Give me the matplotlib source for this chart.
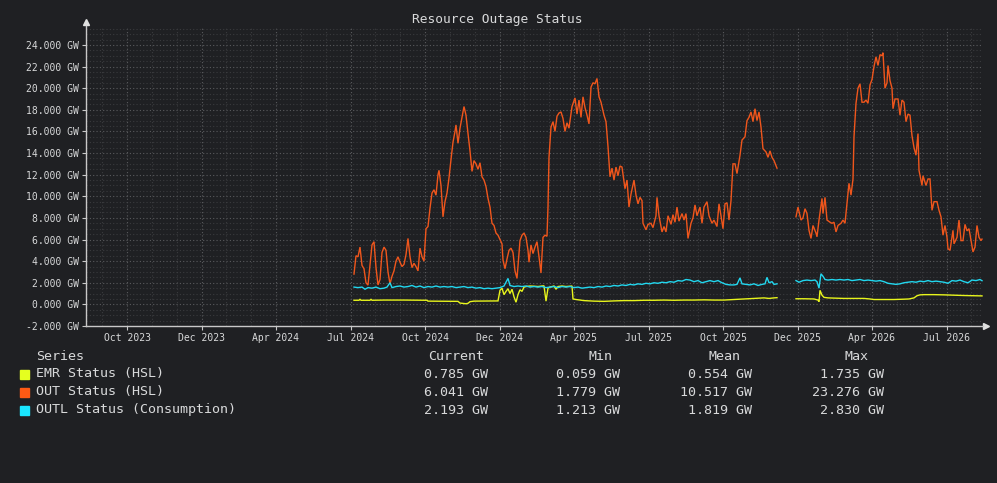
import numpy as np
import matplotlib
matplotlib.use("Agg")
import matplotlib.pyplot as plt
from matplotlib.ticker import MultipleLocator, FixedLocator

# ---------------------------------------------------------------------------
# Dados (x = dias a partir do primeiro ponto)
# ---------------------------------------------------------------------------
tick_labels = ['Oct 2023', 'Dec 2023', 'Apr 2024', 'Jul 2024', 'Oct 2024', 'Dec 2024',
               'Apr 2025', 'Jul 2025', 'Oct 2025', 'Dec 2025', 'Apr 2026', 'Jul 2026']
tick_first_day = -227
tick_step_days = 74.5

out_days = [0, 2, 4, 6, 8, 10, 12, 14, 16, 18, 20, 22, 24, 26, 28, 30, 32, 34, 36, 38,
            40, 42, 44, 46, 48, 50, 52, 54, 56, 58, 60, 62, 64, 66, 68, 70, 72, 74, 76, 78,
            80, 82, 84, 85, 87, 89, 91, 93, 95, 97, 99, 101, 102, 104, 106, 108, 110, 112,
            114, 116, 118, 120, 122, 124, 126, 128, 130, 132, 134, 136, 138, 140, 142, 144,
            146, 148, 149, 151, 153, 155, 157, 159, 161, 163, 165, 166, 168, 170, 172, 174,
            175, 177, 179, 181, 183, 185, 187, 189, 191, 193, 194, 195, 197, 199, 201, 203,
            205, 207, 209, 211, 213, 215, 218, 221, 223, 225, 227, 229, 231, 233, 235, 237,
            239, 241, 243, 245, 247, 250, 252, 254, 256, 258, 260, 262, 264, 266, 268, 271,
            273, 275, 277, 280, 282, 284, 286, 288, 289, 292, 294, 297, 299, 302, 303, 305,
            308, 310, 312, 314, 317, 319, 321, 323, 325, 328, 330, 332, 334, 337, 339, 341,
            343, 346, 348, 350, 353, 355, 358, 360, 363, 365, 367, 369, 371, 373, 375, 377,
            379, 381, 383, 386, 388, 391, 393, 395, 397, 399, 401, 403, 405, 407, 409, 412,
            414, 416, 418, 420, 423,
            432,
            442, 444, 447, 449, 451, 453, 455, 457, 459, 462, 463, 465, 468, 469, 471, 473,
            476, 478, 480, 482, 484, 487, 489, 491, 493, 495, 497, 499, 500, 502, 504, 506,
            508, 510, 512, 514, 516, 518, 520, 522, 524, 526, 528, 529, 531, 533, 534, 536,
            538, 539, 541, 544, 546, 548, 550, 552, 554, 556, 558, 560, 562, 564, 565, 568,
            569, 572, 574, 576, 578, 580, 583, 585, 587, 589, 591, 593, 594, 596, 599, 600,
            603, 605, 607, 609, 611, 613, 615, 617, 619, 621, 623, 625, 627, 628]
out_gw = [2.8, 4.5, 4.4, 5.3, 3.6, 3.3, 2.0, 1.78, 3.6, 5.5, 5.8, 3.4, 1.8, 2.3, 4.8, 5.3, 5.0, 3.0, 1.9, 2.6,
          3.1, 4.0, 4.4, 3.9, 3.5, 3.7, 4.6, 6.1, 4.4, 3.4, 3.8, 3.5, 3.1, 5.2, 4.4, 4.0, 7.0, 7.2, 8.9, 10.3,
          10.6, 10.1, 12.0, 12.4, 11.0, 8.1, 9.5, 10.3, 11.7, 13.4, 15.0, 16.0, 16.6, 14.9, 16.3, 17.3, 18.3, 17.5,
          15.8, 14.2, 12.3, 13.3, 13.0, 12.5, 13.1, 11.8, 11.5, 10.9, 9.8, 9.0, 7.5, 7.3, 6.6, 6.4,
          6.0, 5.6, 4.1, 3.3, 4.2, 5.0, 5.2, 4.8, 3.1, 2.4, 4.8, 5.9, 6.4, 6.6, 6.2, 5.0,
          3.9, 5.5, 4.7, 5.3, 5.8, 4.4, 2.9, 6.2, 6.4, 6.3, 9.0, 13.6, 16.4, 16.9, 16.0, 17.4,
          17.7, 17.8, 17.2, 16.0, 16.8, 16.3, 18.3, 19.1, 17.6, 18.9, 17.3, 19.2, 18.2, 17.5, 16.7, 20.1,
          20.5, 20.4, 20.9, 19.2, 18.7, 17.5, 16.9, 14.6, 11.8, 12.6, 11.5, 12.7, 11.9, 12.8, 12.7, 10.7,
          11.5, 9.0, 10.2, 11.5, 10.1, 9.3, 9.9, 9.6, 7.5, 6.9, 7.4, 7.5, 7.1, 8.2, 9.9, 8.2,
          6.7, 7.2, 6.7, 8.2, 7.4, 8.3, 7.6, 9.0, 7.7, 8.4, 7.8, 8.4, 6.1, 7.5, 8.0, 9.2,
          8.2, 9.0, 7.5, 9.0, 9.5, 8.2, 7.5, 7.8, 7.2, 9.3, 8.2, 7.0, 9.3, 9.4, 7.8, 9.6,
          13.0, 13.0, 12.1, 13.8, 15.2, 15.5, 17.0, 17.3, 17.8, 16.9, 18.1, 17.0, 17.8, 16.4, 14.4, 14.1,
          13.6, 14.2, 13.6, 13.3, 12.6,
          np.nan,
          8.1, 9.0, 7.8, 8.0, 8.85, 8.4, 6.85, 6.1, 7.3, 6.6, 6.25, 7.8, 9.8, 8.4, 9.9, 7.8,
          7.6, 7.5, 7.6, 6.7, 7.3, 7.5, 7.8, 7.5, 9.3, 11.2, 10.1, 11.6, 15.5, 18.6, 20.0, 20.4,
          18.7, 18.7, 18.9, 18.6, 20.3, 20.8, 22.0, 22.9, 22.1, 23.1, 23.0, 23.28, 20.0, 20.5, 22.1, 20.7,
          20.0, 18.1, 19.0, 19.0, 17.5, 18.9, 18.7, 16.9, 17.6, 17.5, 15.6, 14.5, 13.8, 15.8, 12.4, 11.0,
          11.9, 11.0, 11.6, 11.6, 8.7, 9.5, 9.5, 8.7, 8.1, 6.4, 7.3, 6.2, 5.15, 5.0, 6.85, 5.6,
          6.2, 7.8, 5.9, 5.9, 7.4, 6.8, 7.0, 5.9, 4.85, 5.3, 7.3, 6.2, 5.9, 6.04]

outl_days = [0, 4, 8, 11, 14, 18, 22, 26, 30, 33, 36, 38, 42, 46, 50, 54, 58, 62, 66, 70,
             74, 78, 82, 86, 90, 94, 98, 102, 106, 110, 114, 118, 122, 126, 130, 134, 138, 142,
             146, 150, 154, 156, 160, 164, 168, 172, 176, 180, 184, 188, 192, 196, 200, 204,
             208, 212, 216, 220, 224, 228, 232, 236, 240, 244, 248, 252, 256, 260, 264, 268,
             272, 276, 280, 284, 288, 292, 296, 300, 304, 308, 312, 316, 320, 324, 328, 332,
             336, 340, 344, 348, 352, 356, 360, 364, 368, 372, 376, 380, 383, 386, 388, 392,
             396, 400, 404, 408, 411, 413, 415, 418, 420, 423,
             432,
             442, 445, 449, 453, 457, 461, 463, 465, 467, 469, 471, 474, 478, 482, 486, 490,
             494, 498, 502, 506, 510, 514, 518, 522, 526, 530, 534, 538, 542, 546, 550, 554,
             558, 562, 566, 570, 574, 578, 582, 586, 590, 594, 598, 602, 606, 610, 614, 618,
             622, 626, 628]
outl_gw = [1.6, 1.55, 1.6, 1.4, 1.55, 1.5, 1.6, 1.45, 1.5, 1.6, 2.0, 1.55, 1.65, 1.7, 1.6, 1.65, 1.75, 1.6, 1.7, 1.55,
           1.65, 1.6, 1.7, 1.6, 1.65, 1.6, 1.65, 1.55, 1.6, 1.65, 1.55, 1.6, 1.5, 1.55, 1.45, 1.5, 1.45, 1.5,
           1.55, 1.7, 2.4, 1.75, 1.65, 1.7, 1.65, 1.7, 1.6, 1.65, 1.6, 1.65, 1.55, 1.6, 1.65, 1.55,
           1.65, 1.6, 1.65, 1.55, 1.6, 1.5, 1.55, 1.6, 1.55, 1.65, 1.6, 1.7, 1.65, 1.75, 1.7, 1.8,
           1.75, 1.85, 1.8, 1.9, 1.85, 1.95, 1.9, 2.0, 1.95, 2.05, 2.0, 2.1, 2.05, 2.2, 2.15, 2.3,
           2.25, 2.1, 2.2, 2.0, 2.1, 2.2, 2.1, 2.2, 2.0, 1.85, 1.8, 1.8, 1.85, 2.45, 1.9, 1.85,
           1.8, 1.9, 1.75, 1.85, 1.9, 2.5, 2.0, 2.1, 1.85, 1.9,
           np.nan,
           2.2, 2.05, 2.2, 2.25, 2.2, 2.25, 2.1, 1.5, 2.83, 2.6, 2.3, 2.25, 2.3, 2.25, 2.3, 2.25,
           2.3, 2.2, 2.25, 2.3, 2.2, 2.25, 2.2, 2.15, 2.2, 2.1, 1.95, 1.9, 1.85, 1.9, 2.0, 2.05,
           2.1, 2.05, 2.15, 2.1, 2.2, 2.1, 2.15, 2.1, 2.05, 1.95, 2.2, 2.15, 2.25, 2.1, 2.0, 2.25,
           2.2, 2.3, 2.19]

emr_days = [0, 5, 6, 7, 16, 17, 18, 30, 50, 73, 74, 104, 106, 112, 114, 116, 120, 144, 146, 148,
            150, 152, 154, 156, 158, 160, 162, 164, 166, 168, 170, 172, 176, 180, 184, 188, 190, 192,
            194, 196, 200, 202, 204, 208, 212, 216, 218, 219, 222, 230, 240, 250, 260, 270, 280, 290,
            300, 310, 320, 330, 340, 350, 360, 370, 380, 390, 400, 410, 415, 420, 423,
            432,
            442, 450, 460, 464, 465, 466, 468, 470, 474, 480, 490, 500, 510, 516, 520, 530, 540, 550,
            555, 560, 563, 566, 570, 580, 590, 600, 610, 620, 628]
emr_gw = [0.38, 0.38, 0.48, 0.38, 0.38, 0.48, 0.38, 0.4, 0.4, 0.38, 0.3, 0.28, 0.12, 0.06, 0.1, 0.25, 0.3, 0.32, 1.3, 1.5,
          0.9, 1.2, 1.45, 1.0, 1.4, 0.7, 0.2, 0.9, 1.35, 1.2, 1.6, 1.65, 1.7, 1.68, 1.65, 1.7, 1.72, 0.3,
          1.5, 1.6, 1.7, 1.4, 1.65, 1.7, 1.65, 1.68, 1.7, 0.5, 0.45, 0.35, 0.3, 0.28, 0.32, 0.35, 0.35, 0.38,
          0.38, 0.4, 0.38, 0.4, 0.4, 0.42, 0.4, 0.4, 0.45, 0.5, 0.55, 0.6, 0.55, 0.6, 0.62,
          np.nan,
          0.52, 0.52, 0.5, 0.4, 0.25, 1.3, 0.85, 0.65, 0.6, 0.58, 0.55, 0.55, 0.55, 0.5, 0.45, 0.45, 0.45, 0.48,
          0.5, 0.6, 0.8, 0.88, 0.9, 0.9, 0.88, 0.85, 0.82, 0.8, 0.785]

# Tabela da legenda (valores como aparecem no painel)
series_names = ['EMR Status (HSL)', 'OUT Status (HSL)', 'OUTL Status (Consumption)']
series_colors = ['#e5ff1f', '#ff5a14', '#1ae6ff']
line_colors = ['#e8f51c', '#f0561c', '#22d8f0']
stat_headers = ['Current', 'Min', 'Mean', 'Max']
stat_current = ['0.785 GW', '6.041 GW', '2.193 GW']
stat_min = ['0.059 GW', '1.779 GW', '1.213 GW']
stat_mean = ['0.554 GW', '10.517 GW', '1.819 GW']
stat_max = ['1.735 GW', '23.276 GW', '2.830 GW']

# ---------------------------------------------------------------------------
# Visualização
# ---------------------------------------------------------------------------
bg = '#1f2023'
txt = '#d8d9da'
plt.rcParams['font.family'] = ['DejaVu Sans Mono', 'DejaVu Sans']

W, H = 997, 483
fig = plt.figure(figsize=(W / 100, H / 100), dpi=100, facecolor=bg)
ax = fig.add_axes([86 / W, 1 - 326 / H, (983 - 86) / W, (326 - 26) / H])
ax.set_facecolor(bg)

series_y = [emr_gw, out_gw, outl_gw]
series_x = [emr_days, out_days, outl_days]
for xs, ys, c in zip(series_x, series_y, line_colors):
    ax.plot(xs, ys, color=c, lw=1.0, solid_joinstyle='miter')

ax.set_xlim(-268, 629)
ax.set_ylim(-2, 25.75)

major_x = [tick_first_day + i * tick_step_days for i in range(len(tick_labels))]
minor_x = [tick_first_day + (i / 3) * tick_step_days for i in range(-2, 3 * len(tick_labels) + 3)]
ax.xaxis.set_major_locator(FixedLocator(major_x))
ax.xaxis.set_minor_locator(FixedLocator(minor_x))
ax.set_xticklabels(tick_labels)
ax.yaxis.set_major_locator(MultipleLocator(2))
ax.yaxis.set_minor_locator(MultipleLocator(0.5))
ax.yaxis.set_major_formatter(lambda v, p: f'{v:.3f} GW')

ax.grid(which='major', color='#5a5b5e', ls=(0, (1, 2)), lw=0.8)
ax.grid(which='minor', color='#3a3b3e', ls=(0, (1, 2)), lw=0.8)
ax.set_axisbelow(True)

for s in ['top', 'right']:
    ax.spines[s].set_visible(False)
for s in ['left', 'bottom']:
    ax.spines[s].set_color('#c8c8c8')
    ax.spines[s].set_linewidth(1.0)

ax.tick_params(which='major', colors='#c8c8c8', labelcolor=txt, labelsize=7, length=3, width=0.8, pad=2)
ax.tick_params(which='minor', length=0)

# setas dos eixos
ax.plot([0], [1.012], marker='^', ms=4, color='#e0e0e0', transform=ax.transAxes, clip_on=False)
ax.plot([1.003], [0], marker='>', ms=4, color='#e0e0e0', transform=ax.transAxes, clip_on=False)

fig.text(0.499, 1 - 19 / H, 'Resource Outage Status', ha='center', va='center', color=txt, fontsize=9.3)

# tabela da legenda
fs = 9.6
fig.text(36 / W, 1 - 356 / H, 'Series', ha='left', va='center', color=txt, fontsize=fs)
header_x = [456, 600, 724, 856]
value_x = [488, 620, 752, 884]
for hx, h in zip(header_x, stat_headers):
    fig.text(hx / W, 1 - 356 / H, h, ha='center', va='center', color=txt, fontsize=fs)
columns = [stat_current, stat_min, stat_mean, stat_max]
for i, (name, col) in enumerate(zip(series_names, series_colors)):
    yrow = 1 - (374 + 18 * i) / H
    fig.patches.append(plt.Rectangle((20 / W, yrow - 4.5 / H), 9 / W, 9 / H, color=col,
                                     transform=fig.transFigure, figure=fig))
    fig.text(36 / W, yrow, name, ha='left', va='center', color=txt, fontsize=fs)
    for vx, vals in zip(value_x, columns):
        fig.text(vx / W, yrow, vals[i], ha='right', va='center', color=txt, fontsize=fs)

fig.savefig('out.png', dpi=100, facecolor=bg)
